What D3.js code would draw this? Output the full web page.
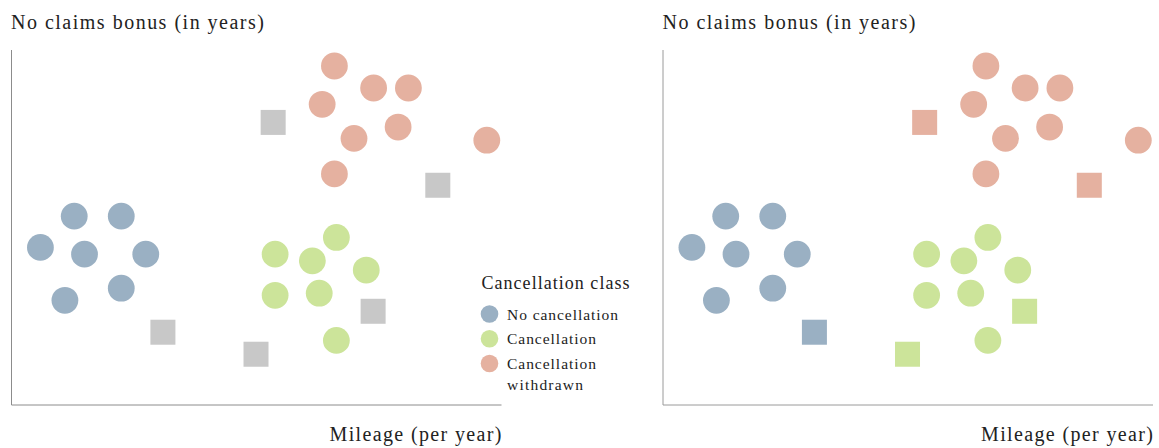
<!DOCTYPE html>
<html>
<head>
<meta charset="utf-8">
<script src="https://cdn.jsdelivr.net/npm/d3@7"></script>
<style>
  body { margin: 0; background: #fff; }
</style>
</head>
<body>
<div id="chart"></div>
<script>
// classes
var classes = ["No cancellation", "Cancellation", "Cancellation withdrawn"];
var classColors = ["#9ab0c3", "#cce49a", "#e5b1a0"];

// known cases: mileage (0-100), bonus (0-100)
var noCancelX = [12.8, 22.4, 5.9, 14.9, 27.4, 22.4, 10.9];
var noCancelY = [53.2, 53.2, 44.4, 42.5, 42.5, 32.9, 29.5];
var cancelX = [66.3, 53.8, 61.4, 72.4, 53.8, 62.8, 66.3];
var cancelY = [47.2, 42.5, 40.6, 38.0, 30.9, 31.5, 18.2];
var withdrawnX = [65.9, 73.9, 81.0, 63.4, 78.9, 69.9, 97.0, 65.9];
var withdrawnY = [95.5, 89.3, 89.3, 84.7, 78.3, 75.1, 74.6, 65.1];

// new cases (squares), with the class they get on the right
var newX = [53.4, 87.0, 30.9, 73.8, 49.9];
var newY = [79.6, 61.9, 20.5, 26.4, 14.3];
var newClass = [2, 2, 0, 1, 1];

var yLabel = "No claims bonus (in years)";
var xLabel = "Mileage (per year)";
var legendTitle = "Cancellation class";

var known = [];
noCancelX.forEach(function(v, i) { known.push({x: v, y: noCancelY[i], c: 0}); });
cancelX.forEach(function(v, i) { known.push({x: v, y: cancelY[i], c: 1}); });
withdrawnX.forEach(function(v, i) { known.push({x: v, y: withdrawnY[i], c: 2}); });
var fresh = newX.map(function(v, i) { return {x: v, y: newY[i], c: newClass[i]}; });

var W = 1159, H = 448;
var plotW = 490, plotH = 355;
var serif = "Liberation Serif";

var svg = d3.select("#chart").append("svg")
  .attr("width", W)
  .attr("height", H);

var x = d3.scaleLinear().domain([0, 100]).range([0, plotW]);
var y = d3.scaleLinear().domain([0, 100]).range([plotH, 0]);

function label(g, txt, size, len) {
  return g.append("text")
    .attr("font-family", serif)
    .attr("font-size", size)
    .attr("fill", "#222")
    .attr("textLength", len)
    .attr("lengthAdjust", "spacing")
    .text(txt);
}

function panel(offsetX, classified, axisCol) {
  var g = svg.append("g")
    .attr("transform", "translate(" + offsetX + ",50)");

  // axes: plain lines, no ticks
  g.append("line")
    .attr("x1", 0).attr("x2", 0)
    .attr("y1", 0).attr("y2", plotH)
    .attr("stroke", axisCol).attr("stroke-width", 1);
  g.append("line")
    .attr("x1", 0).attr("x2", plotW)
    .attr("y1", plotH).attr("y2", plotH)
    .attr("stroke", axisCol).attr("stroke-width", 1);

  label(g, yLabel, 20, 253)
    .attr("x", -0.5).attr("y", -21.5);

  label(g, xLabel, 20, 172)
    .attr("x", plotW - 172).attr("y", plotH + 36);

  g.selectAll("circle.pt")
    .data(known)
    .enter().append("circle")
    .attr("class", "pt")
    .attr("cx", function(d) { return x(d.x); })
    .attr("cy", function(d) { return y(d.y); })
    .attr("r", 13.4)
    .attr("fill", function(d) { return classColors[d.c]; });

  var s = 25;
  g.selectAll("rect.new")
    .data(fresh)
    .enter().append("rect")
    .attr("class", "new")
    .attr("x", function(d) { return x(d.x) - s / 2; })
    .attr("y", function(d) { return y(d.y) - s / 2; })
    .attr("width", s).attr("height", s)
    .attr("fill", function(d) { return classified ? classColors[d.c] : "#c8c8c8"; });

  return g;
}

panel(11.5, false, "#8c8c8c");
panel(663, true, "#9a9a9a");

// legend on the left panel
var lg = svg.append("g").attr("transform", "translate(481,0)");
label(lg, legendTitle, 18, 148)
  .attr("x", 0.5).attr("y", 288.5);

var itemLen = {"No cancellation": 111, "Cancellation": 89, "withdrawn": 76};
var ly = d3.scalePoint().domain(classes).range([314, 363.5]);
var items = lg.selectAll("g.item")
  .data(classes)
  .enter().append("g")
  .attr("class", "item")
  .attr("transform", function(d) { return "translate(0," + ly(d) + ")"; });

items.append("circle")
  .attr("cx", 8.5).attr("cy", 0).attr("r", 8.8)
  .attr("fill", function(d, i) { return classColors[i]; });

items.each(function(d) {
  var words = d === "Cancellation withdrawn" ? ["Cancellation", "withdrawn"] : [d];
  var it = d3.select(this);
  words.forEach(function(w, k) {
    label(it, w, 15.5, itemLen[w])
      .attr("x", 26).attr("y", 5.5 + k * 21);
  });
});
</script>
</body>
</html>
